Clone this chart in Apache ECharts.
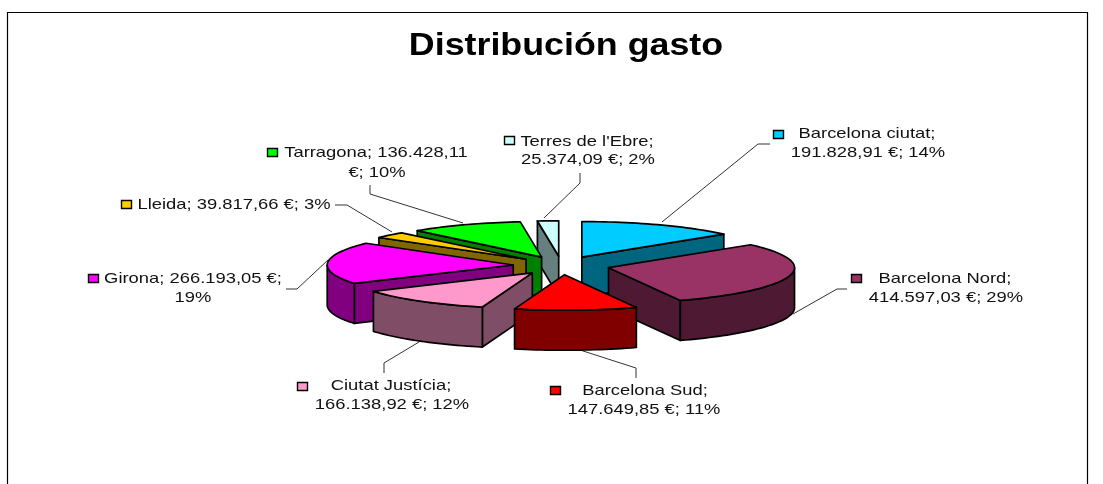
<!DOCTYPE html>
<html>
<head>
  <meta charset="utf-8">
  <title>Distribución gasto</title>
  <script src="https://cdn.jsdelivr.net/npm/echarts@6/dist/echarts.min.js"></script>
  <style>
    html, body, #container { width: 100%; height: 100%; margin: 0; padding: 0; background: #fff; }
  </style>
</head>
<body>
  <div id="container"></div>
  <script>
    // data, clockwise from 12 o'clock
    var chartTitle = 'Distribución gasto';
    var categories = ['Barcelona ciutat', 'Barcelona Nord', 'Barcelona Sud', 'Ciutat Justícia', 'Girona', 'Lleida', 'Tarragona', "Terres de l'Ebre"];
    var values = [191828.91, 414597.03, 147649.85, 166138.92, 266193.05, 39817.66, 136428.11, 25374.09];
    var labelLines = [
      ['Barcelona ciutat;', '191.828,91 €; 14%'],
      ['Barcelona Nord;', '414.597,03 €; 29%'],
      ['Barcelona Sud;', '147.649,85 €; 11%'],
      ['Ciutat Justícia;', '166.138,92 €; 12%'],
      ['Girona; 266.193,05 €;', '19%'],
      ['Lleida; 39.817,66 €; 3%'],
      ['Tarragona; 136.428,11', '€; 10%'],
      ["Terres de l'Ebre;", '25.374,09 €; 2%']
    ];

    // styling
    var topColors = ['#00CCFF', '#993366', '#FF0000', '#FF99CC', '#FF00FF', '#FFCC00', '#00FF00', '#CCFFFF'];
    var sideColors = ['#006680', '#4D1933', '#800000', '#804D66', '#800080', '#806600', '#008000', '#668080'];
    var drawOrder = [7, 6, 5, 4, 0, 1, 3, 2];

    // pie geometry
    var cx = 561.5, cy = 265.5, rx = 186, ry = 35.5, depth = 40, explode = 0.26;

    // label layout: line centres, legend key, leader line
    var textCenters = [
      [[867, 134], [868, 153]],
      [[945, 279], [946, 298]],
      [[645, 391], [644, 410]],
      [[391, 386], [392, 405]],
      [[193, 279], [193, 298]],
      [[234, 205]],
      [[376, 153], [377, 173]],
      [[587, 142], [588, 160]]
    ];
    var keyBoxes = [[773, 130], [851, 274], [550, 386], [297, 382], [88, 274], [121, 200], [267, 148], [504, 136]];
    var leaders = [
      [[662, 222], [758, 144], [770, 144]],
      [[793, 314], [837, 289], [847, 289]],
      [[580, 350], [636, 368], [636, 378]],
      [[419, 342], [384, 363], [384, 373]],
      [[328, 260], [297, 289], [286, 289]],
      [[392, 232], [347, 205], [335, 205]],
      [[463, 223], [370, 194], [370, 185]],
      [[544, 218], [580, 183], [580, 173]]
    ];

    var total = values.reduce(function (a, b) { return a + b; }, 0);
    var startAngles = [];
    var sum = 0;
    values.forEach(function (v) {
      startAngles.push(sum / total * 2 * Math.PI);
      sum += v;
    });

    function rim(apex, a, dy) {
      return [apex[0] + rx * Math.sin(a), apex[1] - ry * Math.cos(a) + (dy || 0)];
    }

    function arc(apex, from, to) {
      var pts = [];
      var n = Math.max(2, Math.ceil((to - from) / 0.03));
      for (var i = 0; i <= n; i++) {
        pts.push(rim(apex, from + (to - from) * i / n));
      }
      return pts;
    }

    function poly(points, fill) {
      return {
        type: 'polygon',
        shape: { points: points },
        style: { fill: fill, stroke: '#000', lineWidth: 1.7, lineJoin: 'round' }
      };
    }

    function cutFace(apex, a, fill) {
      var p = rim(apex, a);
      return poly([apex, p, [p[0], p[1] + depth], [apex[0], apex[1] + depth]], fill);
    }

    function renderSlice(params, api) {
      var idx = api.value(0);
      var a0 = startAngles[idx];
      var a1 = a0 + values[idx] / total * 2 * Math.PI;
      var mid = (a0 + a1) / 2;
      var apex = [cx + explode * rx * Math.sin(mid), cy - explode * ry * Math.cos(mid)];
      var side = sideColors[idx];
      var children = [];

      // cut faces turned towards the viewer
      if (Math.sin(a0) < 0) children.push(cutFace(apex, a0, side));
      if (Math.sin(a1) > 0) children.push(cutFace(apex, a1, side));

      // outer wall, only the front half of the rim shows
      var w0 = Math.max(a0, Math.PI / 2), w1 = Math.min(a1, Math.PI * 1.5);
      if (w1 > w0) {
        var upper = arc(apex, w0, w1);
        var lower = upper.map(function (p) { return [p[0], p[1] + depth]; }).reverse();
        children.push(poly(upper.concat(lower), side));
      }

      children.push(poly([apex].concat(arc(apex, a0, a1)), topColors[idx]));
      return { type: 'group', children: children };
    }

    // the reference text is stretched sideways, hence the scaleX
    var graphics = [{
      type: 'rect',
      shape: { x: 7.5, y: 12.5, width: 1080, height: 480 },
      style: { fill: 'none', stroke: '#000', lineWidth: 1.2 },
      silent: true
    }, {
      type: 'text',
      x: 566,
      y: 46,
      scaleX: 1.155,
      style: {
        text: chartTitle,
        fill: '#000',
        font: 'bold 31px "Liberation Sans", Arial, sans-serif',
        align: 'center',
        verticalAlign: 'middle'
      }
    }];

    categories.forEach(function (name, i) {
      graphics.push({
        type: 'polyline',
        shape: { points: leaders[i] },
        style: { fill: 'none', stroke: '#333', lineWidth: 1 }
      });
      graphics.push({
        type: 'rect',
        shape: { x: keyBoxes[i][0] + 0.5, y: keyBoxes[i][1] + 0.5, width: 10, height: 8 },
        style: { fill: topColors[i], stroke: '#000', lineWidth: 1.4 }
      });
      labelLines[i].forEach(function (line, j) {
        graphics.push({
          type: 'text',
          x: textCenters[i][j][0],
          y: textCenters[i][j][1],
          scaleX: 1.225,
          style: {
            text: line,
            fill: '#111',
            font: '15px "Liberation Sans", Arial, sans-serif',
            align: 'center',
            verticalAlign: 'middle'
          }
        });
      });
    });

    var myChart = echarts.init(document.getElementById('container'));
    myChart.setOption({
      animation: false,
      graphic: graphics,
      series: [{
        type: 'custom',
        coordinateSystem: 'none',
        silent: true,
        renderItem: renderSlice,
        data: drawOrder.map(function (i) { return { name: categories[i], value: [i, values[i]] }; })
      }]
    });
  </script>
</body>
</html>
